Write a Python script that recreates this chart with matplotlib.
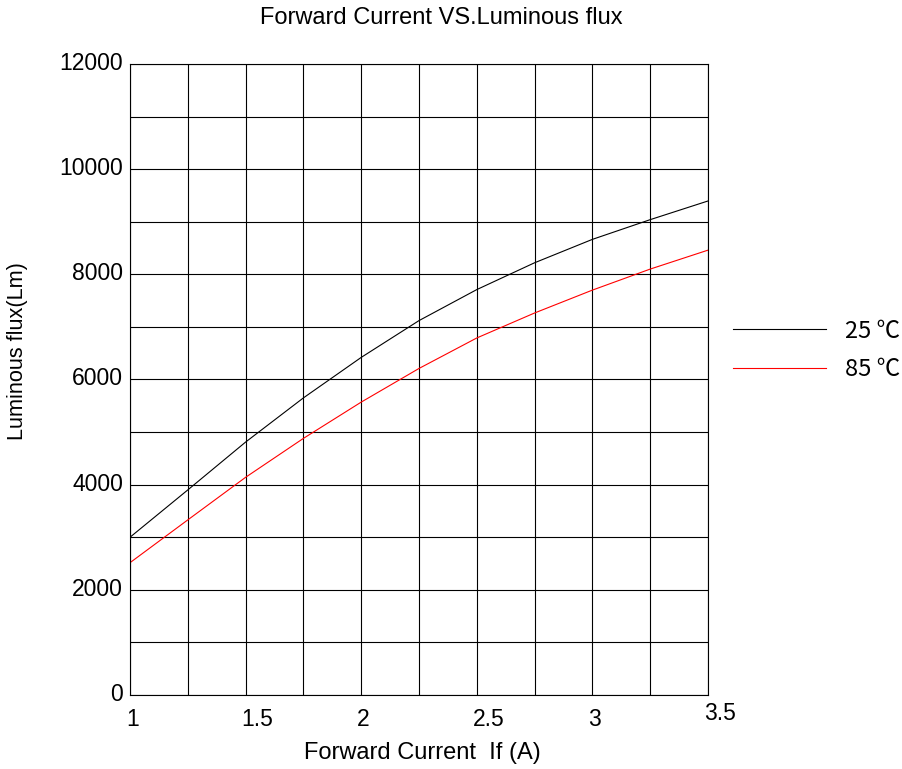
import numpy as np
import matplotlib as mpl
mpl.use("Agg")
import matplotlib.pyplot as plt
import matplotlib.transforms as mtransforms

plt.rcParams['font.family'] = ['Liberation Sans', 'DejaVu Sans']

# data
current = [1.0, 1.25, 1.5, 1.75, 2.0, 2.25, 2.5, 2.75, 3.0, 3.25, 3.5]
flux_25 = [3000, 3900, 4810, 5650, 6420, 7120, 7710, 8220, 8665, 9040, 9395]
flux_85 = [2516, 3330, 4140, 4880, 5570, 6210, 6790, 7265, 7700, 8100, 8460]
series_labels = ['25 \u2103', '85 \u2103']
x_ticks = [1, 1.5, 2, 2.5, 3, 3.5]
x_ticklabels = ['1', '1.5', '2', '2.5', '3', '3.5']
y_ticks = [0, 2000, 4000, 6000, 8000, 10000, 12000]

fig = plt.figure(figsize=(9.02, 7.69), dpi=100)
ax = fig.add_axes([130/902, 1-695/769, 578/902, 631/769])

ax.plot(current, flux_25, color='black', lw=0.8, label=series_labels[0])
ax.plot(current, flux_85, color='red', lw=0.8, label=series_labels[1])

ax.set_xlim(1, 3.5)
ax.set_ylim(0, 12000)

ax.set_xticks(x_ticks)
ax.set_xticklabels(x_ticklabels, fontsize=16.5)
ax.set_yticks(y_ticks)
ax.set_yticklabels([str(v) for v in y_ticks], fontsize=16.5)

# grid every 0.25 A and 1000 lm
ax.set_xticks(np.arange(1.25, 3.5, 0.5), minor=True)
ax.set_yticks(np.arange(1000, 12000, 2000), minor=True)
ax.grid(which='both', color='black', lw=0.8)
ax.set_axisbelow(True)
for s in ax.spines.values():
    s.set_linewidth(0.8)

ax.tick_params(which='both', length=0)
ax.tick_params(axis='y', pad=5)
ax.tick_params(axis='x', pad=9)

# tick labels sit a bit off their lines in the original
for lab in ax.get_xticklabels():
    lab.set_ha('left')
    dy = 5 if lab.get_text() == '3.5' else 0
    lab.set_transform(lab.get_transform() + mtransforms.ScaledTranslation(-4/100, dy/100, fig.dpi_scale_trans))
for lab in ax.get_yticklabels():
    lab.set_transform(lab.get_transform() + mtransforms.ScaledTranslation(0, 3/100, fig.dpi_scale_trans))

fig.text(441/902, 1-18/769, 'Forward Current VS.Luminous flux', ha='center', va='center', fontsize=17)
fig.text(422/902, 1-753/769, 'Forward Current  If (A)', ha='center', va='center', fontsize=17)
fig.text(18/902, 1-351/769, 'Luminous flux(Lm)', ha='center', va='center', rotation=90, fontsize=15.7)

leg = ax.legend(loc='upper left', bbox_to_anchor=(1.043, 0.595), frameon=False,
                handlelength=3.95, handletextpad=0.8, labelspacing=0.65, borderpad=0,
                borderaxespad=0,
                prop={'family': ['Noto Sans CJK SC', 'DejaVu Sans'], 'size': 17})

fig.savefig('out.png', dpi=100)
